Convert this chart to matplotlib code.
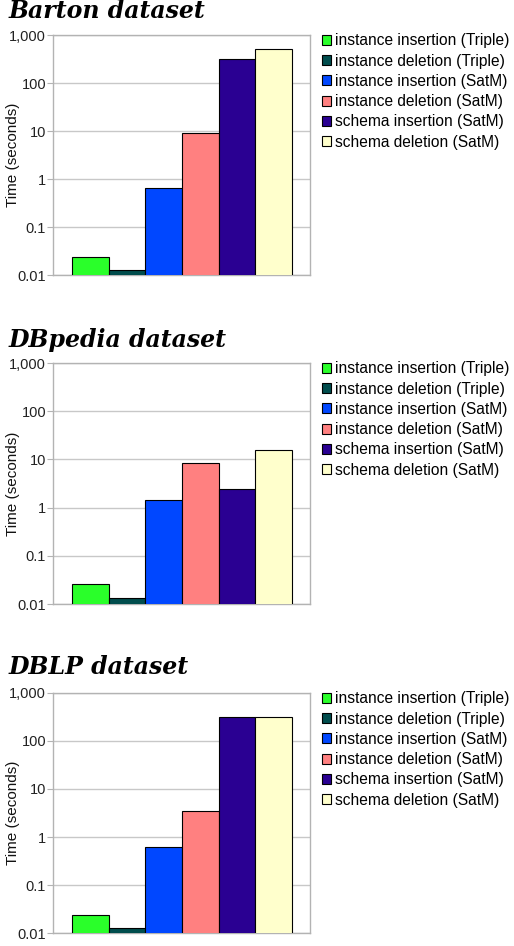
import matplotlib
matplotlib.use("Agg")
import matplotlib.pyplot as plt
from matplotlib.patches import Patch
import numpy as np

plt.rcParams['font.family'] = ['Liberation Sans', 'DejaVu Sans']

series = ["instance insertion (Triple)", "instance deletion (Triple)",
          "instance insertion (SatM)", "instance deletion (SatM)",
          "schema insertion (SatM)", "schema deletion (SatM)"]
colors = ["#2aff2a", "#004d4d", "#0047ff", "#ff8080", "#2a0092", "#ffffcc"]

titles = ["Barton dataset", "DBpedia dataset", "DBLP dataset"]
barton = [0.024, 0.0127, 0.64, 8.9, 316, 500]
dbpedia = [0.0257, 0.0131, 1.45, 8.4, 2.4, 15.4]
dblp = [0.024, 0.0129, 0.62, 3.5, 309, 323]
datasets = [barton, dbpedia, dblp]

yticks = [0.01, 0.1, 1, 10, 100, 1000]
ytick_labels = ["0.01", "0.1", "1", "10", "100", "1,000"]

W, H = 514, 946
fig = plt.figure(figsize=(W / 100, H / 100), dpi=100)

# axes boxes in pixels: (left, top, right, bottom)
boxes = [(53, 35, 310, 275), (53, 363, 310, 604), (53, 693, 310, 933)]
title_y = [17.5, 346.5, 674]

for i, (vals, title, box) in enumerate(zip(datasets, titles, boxes)):
    l, t, r, b = box
    ax = fig.add_axes([l / W, 1 - b / H, (r - l) / W, (b - t) / H])
    x = np.arange(len(vals))
    ax.set_yscale('log')
    ax.yaxis.grid(True, color='#c8c8c8', linewidth=1)
    ax.set_axisbelow(True)
    ax.bar(x, vals, width=1.0, bottom=0.0001, color=colors,
           edgecolor='black', linewidth=0.8, zorder=3)
    ax.set_ylim(0.01, 1000)
    ax.set_xlim(-1.02, 5.99)
    ax.set_yticks(yticks)
    ax.set_yticklabels(ytick_labels, fontsize=10.5, color='#222222')
    ax.yaxis.set_minor_locator(matplotlib.ticker.NullLocator())
    ax.tick_params(axis='y', length=4, color='#b3b3b3', pad=1)
    ax.set_xticks([])
    for s in ax.spines.values():
        s.set_color('#b3b3b3')
        s.set_linewidth(1)
    ax.set_ylabel("Time (seconds)", fontsize=11, color='#111111')
    ax.yaxis.set_label_coords(-33 / 257, 0.5)
    fig.text(9 / W, 1 - title_y[i] / H, title, fontsize=17,
             family='DejaVu Serif', style='italic', weight='bold',
             ha='left', va='baseline')
    handles = [Patch(facecolor=c, edgecolor='black', linewidth=0.8) for c in colors]
    ax.legend(handles, series, loc='upper left',
              bbox_to_anchor=(1.045, 1.007), frameon=False, fontsize=11.2,
              handlelength=0.6, handleheight=0.6, handletextpad=0.25,
              labelspacing=0.34, borderaxespad=0, borderpad=0)

fig.savefig("out.png", dpi=100)
